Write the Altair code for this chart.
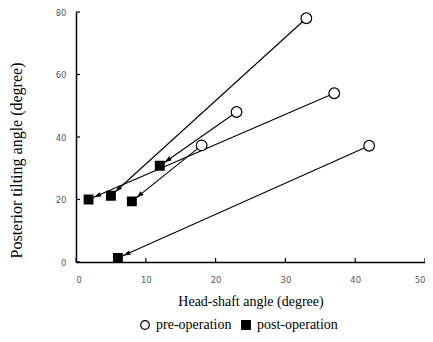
import math
import altair as alt
import pandas as pd

# data
pre_x = [33, 23, 37, 18, 42]
pre_y = [78, 48, 54, 37.3, 37.2]
post_x = [5, 12, 1.8, 8, 6]
post_y = [21.2, 30.8, 20.0, 19.4, 1.3]
x_ticks = [0, 10, 20, 30, 40, 50]
y_ticks = [0, 20, 40, 60, 80]
types = ["pre-operation", "post-operation"]

W = 349
H = 250

sx = W / 50.0
sy = H / 80.0

df_lines = pd.DataFrame({"x": pre_x, "y": pre_y, "x2": post_x, "y2": post_y})
df_pre = pd.DataFrame({"x": pre_x, "y": pre_y, "type": [types[0]] * len(pre_x)})
df_post = pd.DataFrame({"x": post_x, "y": post_y, "type": [types[1]] * len(post_x)})
angs = []
for px, py, qx, qy in zip(pre_x, pre_y, post_x, post_y):
    dx = (px - qx) * sx
    dys = -(py - qy) * sy
    a = math.degrees(math.atan2(dx, -dys)) % 360
    angs.append(a)
df_arrow = pd.DataFrame({"x": post_x, "y": post_y, "ang": angs})
df_xt = pd.DataFrame({"x": x_ticks})
df_yt = pd.DataFrame({"y": y_ticks})

xs = alt.Scale(domain=[0, 50], nice=False, zero=False)
ys = alt.Scale(domain=[0, 80], nice=False, zero=False)

tick_font = "DejaVu Sans"
xaxis = alt.Axis(values=x_ticks, tickSize=0, labelPadding=13, grid=False,
                 labelFont=tick_font, labelFontSize=8.5, labelColor="#595959",
                 domainColor="black", domainWidth=1.5,
                 title="Head-shaft angle (degree)", titleFont="Liberation Serif",
                 titleFontSize=14, titleFontWeight="normal", titleColor="black",
                 titleY=39, titleBaseline="middle")
yaxis = alt.Axis(values=y_ticks, tickSize=0, labelPadding=10, grid=False,
                 labelFont=tick_font, labelFontSize=8.5, labelColor="#595959",
                 domainColor="black", domainWidth=1.5,
                 title="Posterior tilting angle (degree)", titleFont="Liberation Serif",
                 titleFontSize=16, titleFontWeight="normal", titleColor="black",
                 titleX=-60, titleY=148, titleBaseline="middle")

X = alt.X("x:Q", scale=xs, axis=xaxis)
Y = alt.Y("y:Q", scale=ys, axis=yaxis)

legend = alt.Legend(orient="none", legendX=62, legendY=306, direction="horizontal",
                    title=None, labelFont="Liberation Serif", labelFontSize=14,
                    labelColor="black", symbolSize=75, symbolStrokeColor="black",
                    symbolStrokeWidth=1.2, columnPadding=7, labelOffset=4)
shape_enc = alt.Shape("type:N", scale=alt.Scale(domain=types, range=["circle", "square"]),
                      legend=legend)
fill_enc = alt.Fill("type:N", scale=alt.Scale(domain=types, range=["white", "black"]),
                    legend=legend)
stroke_enc = alt.Stroke("type:N", scale=alt.Scale(domain=types, range=["black", "black"]),
                        legend=legend)

lines = alt.Chart(df_lines).mark_rule(color="black", strokeWidth=1.1).encode(
    x=X, y=Y, x2="x2:Q", y2="y2:Q")

arrow_path = "M0,-0.62 L0.24,-1.3 L-0.24,-1.3 Z"
arrows = alt.Chart(df_arrow).mark_point(
    shape=arrow_path, filled=True, color="black", size=400, opacity=1, strokeWidth=0.5
).encode(x=X, y=Y, angle=alt.Angle("ang:Q", scale=None))

pre_pts = alt.Chart(df_pre).mark_point(filled=True, strokeWidth=1.2, opacity=1, size=113).encode(
    x=X, y=Y, shape=shape_enc, fill=fill_enc, stroke=stroke_enc)
post_pts = alt.Chart(df_post).mark_point(filled=True, strokeWidth=1.2, opacity=1, size=75).encode(
    x=X, y=Y, shape=shape_enc, fill=fill_enc, stroke=stroke_enc)

xt = alt.Chart(df_xt).mark_rule(color="black", strokeWidth=1.2).encode(
    x=X, y=alt.value(H), y2=alt.value(H - 4))
yt = alt.Chart(df_yt).mark_rule(color="black", strokeWidth=1.2).encode(
    y=Y, x=alt.value(0), x2=alt.value(4))

chart = alt.layer(lines, arrows, pre_pts, post_pts, xt, yt).properties(
    width=W, height=H,
    autosize=alt.AutoSizeParams(type="none"),
    padding={"left": 68, "top": 4, "right": 0, "bottom": 72},
    background="white",
).configure_view(stroke=None)

chart.save("out.html", embed_options={"renderer": "svg", "actions": False})
